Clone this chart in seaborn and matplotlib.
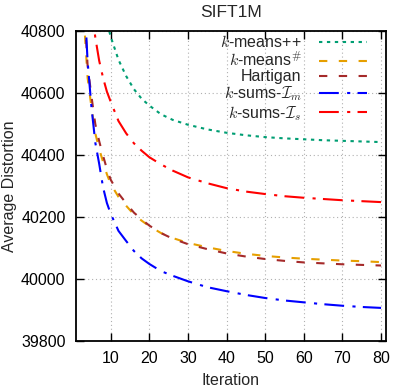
import numpy as np
import pandas as pd
import matplotlib
matplotlib.use("Agg")
import matplotlib.pyplot as plt
import seaborn as sns

# ---- data ----
iters_kmpp = [8, 9, 10, 12, 14, 16, 18, 20, 23, 26, 30, 35, 40, 45, 50, 55, 60, 65, 70, 75, 80]
kmpp = [40900, 40830, 40782, 40708, 40655, 40613, 40582, 40560, 40532, 40514, 40498, 40483,
        40472, 40464, 40458, 40454, 40451, 40448, 40446, 40444, 40442]

iters_full = [3, 4, 5, 6, 7, 8, 9, 10, 12, 14, 16, 18, 20, 23, 26, 30, 35, 40, 45, 50, 55, 60, 65, 70, 75, 80]
kmsharp = [40850, 40650, 40555, 40470, 40420, 40378, 40338, 40306, 40265, 40236, 40208, 40188,
           40170, 40148, 40132, 40116, 40102, 40090, 40081, 40074, 40069, 40065, 40062, 40059,
           40057, 40054]
hartigan = [40900, 40690, 40590, 40500, 40445, 40398, 40355, 40320, 40276, 40244, 40214, 40192,
            40172, 40148, 40130, 40112, 40096, 40082, 40072, 40064, 40058, 40053, 40050, 40047,
            40045, 40043]
ksums_m = [40950, 40703, 40555, 40440, 40372, 40296, 40245, 40210, 40155, 40122, 40090, 40066,
           40048, 40025, 40010, 39992, 39973, 39960, 39948, 39938, 39930, 39924, 39918, 39913,
           39909, 39906]

iters_s = [5, 6, 7, 8, 9, 10, 12, 14, 16, 18, 20, 23, 26, 30, 35, 40, 45, 50, 55, 60, 65, 70, 75, 80]
ksums_s = [40880, 40780, 40705, 40650, 40605, 40572, 40510, 40470, 40438, 40414, 40393, 40370,
           40350, 40328, 40309, 40293, 40282, 40274, 40267, 40262, 40258, 40254, 40251, 40248]

labels = [r"$k$-means++", r"$k$-means$^{\#}$", "Hartigan",
          r"$k$-sums-$\mathcal{I}_m$", r"$k$-sums-$\mathcal{I}_s$"]
xticks = [10, 20, 30, 40, 50, 60, 70, 80]
yticks = [39800, 40000, 40200, 40400, 40600, 40800]

# ---- style ----
sns.set_theme(style="ticks")
plt.rcParams["font.family"] = ["Liberation Sans", "DejaVu Sans"]
plt.rcParams["mathtext.fontset"] = "cm"

fig = plt.figure(figsize=(3.93, 3.88), dpi=100)
ax = fig.add_axes([0.1934, 0.1219, 0.7880, 0.7974])

series = [
    (iters_kmpp, kmpp, "#009e73", (1.6, 2.2)),
    (iters_full, kmsharp, "#e69f00", (4.0, 5.5)),
    (iters_full, hartigan, "#a52a2a", (4.0, 5.5)),
    (iters_full, ksums_m, "#0000ff", (9.5, 4.0, 1.5, 3.5)),
    (iters_s, ksums_s, "#ff0000", (9.5, 4.0, 1.5, 3.5)),
]
for (xs, ys, col, dash), lab in zip(series, labels):
    df = pd.DataFrame({"Iteration": xs, "Average Distortion": ys})
    n_before = len(ax.lines)
    sns.lineplot(data=df, x="Iteration", y="Average Distortion", ax=ax,
                 color=col, linewidth=1.5, label=lab)
    ln = ax.lines[n_before]
    ln.set_dashes(dash)

ax.set_xlim(1, 81.2)
ax.set_ylim(39800, 40800)
ax.set_xticks(xticks)
ax.set_yticks(yticks)
ax.grid(True, color="#b0b0b0", linestyle=(0, (1, 2.5)), linewidth=0.8)
ax.tick_params(direction="in", length=5.5, width=1.0, labelsize=11.5, pad=7.5,
               top=True, right=True, colors="black")
for s in ax.spines.values():
    s.set_linewidth(1.3)
    s.set_color("black")

ax.set_title("SIFT1M", fontsize=12.5, pad=10)
ax.set_xlabel("Iteration", fontsize=11.5)
ax.set_ylabel("Average Distortion", fontsize=11.5)
ax.xaxis.set_label_coords(0.5, -0.105)
ax.yaxis.set_label_coords(-0.19, 0.5)

leg = ax.legend(loc="upper right", bbox_to_anchor=(0.94, 0.99), frameon=False,
                markerfirst=False, fontsize=11.5, handlelength=3.0, handletextpad=1.1,
                labelspacing=0.02, borderpad=0.0, borderaxespad=0.0)

fig.savefig("out.png", dpi=100)
